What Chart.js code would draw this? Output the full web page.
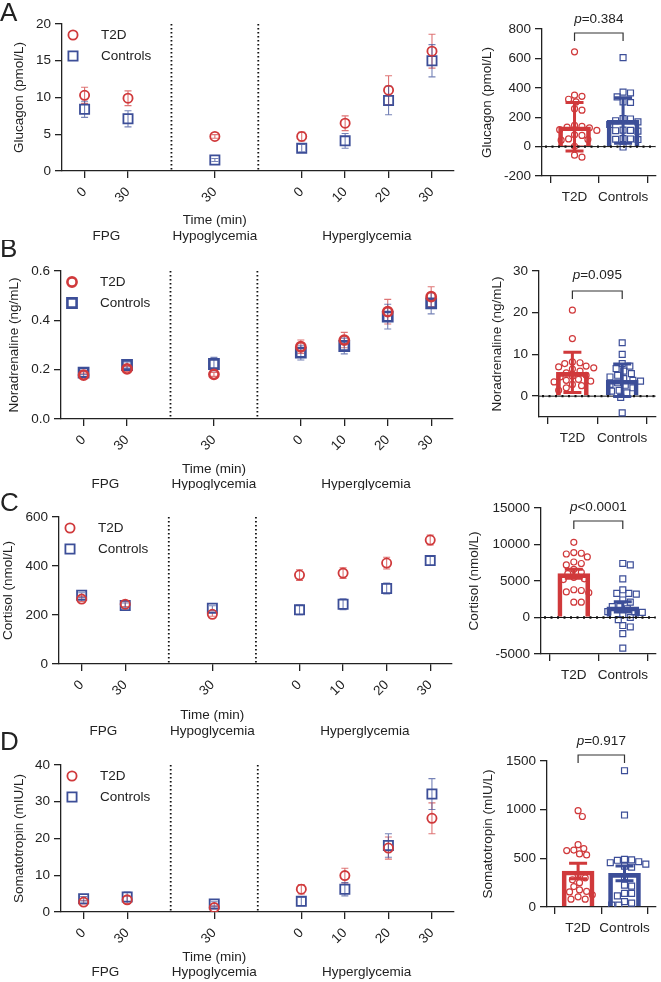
<!DOCTYPE html>
<html>
<head>
<meta charset="utf-8">
<script src="https://cdn.jsdelivr.net/npm/chart.js@4.4.1/dist/chart.umd.min.js"></script>
<style>
  html, body { margin: 0; padding: 0; background: #fff; }
  #fig { position: relative; width: 661px; height: 982px; overflow: hidden; }
  #fig canvas { position: absolute; }
</style>
</head>
<body>
<div id="fig"></div>
<script>
// ===== data =====
const phases = ['FPG', 'Hypoglycemia', 'Hyperglycemia'];
const timeLabels = ['0', '30', '30', '0', '10', '20', '30'];
const timePhase = [0, 0, 1, 2, 2, 2, 2];
const groups = ['T2D', 'Controls'];

// time courses (mean, error)
const glucT2D = [10.3, 9.9, 4.7, 4.7, 6.5, 11.0, 16.3];
const glucT2DErr = [1.1, 1.0, 0.25, 0.6, 1.0, 1.95, 2.3];
const glucCtl = [8.4, 7.1, 1.5, 3.1, 4.1, 9.6, 15.0];
const glucCtlErr = [1.1, 1.1, 0.2, 0.5, 1.0, 1.95, 2.2];

const noraT2D = [0.178, 0.203, 0.181, 0.293, 0.32, 0.435, 0.496];
const noraT2DErr = [0.008, 0.01, 0.008, 0.027, 0.031, 0.05, 0.04];
const noraCtl = [0.188, 0.219, 0.223, 0.269, 0.296, 0.415, 0.469];
const noraCtlErr = [0.008, 0.012, 0.027, 0.03, 0.032, 0.05, 0.043];

const cortT2D = [265, 244, 203, 363, 371, 412, 506];
const cortT2DErr = [10, 10, 8, 22, 22, 24, 20];
const cortCtl = [281, 239, 228, 221, 244, 308, 422];
const cortCtlErr = [10, 10, 10, 20, 22, 22, 20];

const somaT2D = [2.7, 3.3, 1.2, 6.2, 9.9, 17.4, 25.5];
const somaT2DErr = [0.5, 1.0, 0.4, 1.3, 2.0, 3.0, 4.2];
const somaCtl = [3.6, 4.1, 2.2, 2.9, 6.2, 18.1, 32.1];
const somaCtlErr = [0.6, 1.3, 0.6, 1.2, 1.8, 3.2, 4.2];

// summary bars [T2D, Controls] and individual values
const glucBar = [135, 178];
const glucBarErr = [165, 155];
const glucPtsT2D = [645, 350, 342, 322, 304, 258, 248, 145, 138, 133, 128, 115, 110, 80, 76, 52, 48, 44, 2, -58, -72];
const glucPtsCtl = [605, 371, 365, 338, 304, 300, 190, 188, 176, 168, 150, 112, 110, 108, 105, 55, 52, 50, 48, -3];

const noraBar = [5.7, 3.8];
const noraBarErr = [4.8, 3.9];
const noraPtsT2D = [20.6, 13.8, 8.2, 8.0, 7.8, 7.2, 7.0, 6.8, 6.5, 6.0, 5.6, 5.0, 4.8, 4.6, 4.0, 3.8, 3.6, 3.4, 2.8, 2.5, 2.0, 1.4];
const noraPtsCtl = [12.8, 10.0, 7.8, 7.2, 6.6, 6.0, 5.4, 5.0, 4.6, 4.2, 3.8, 3.6, 3.2, 2.8, 2.6, 2.0, 1.4, 1.2, 0.8, -0.3, -4.0];

const cortBar = [6000, 1450];
const cortBarErr = [620, 700];
const cortPtsT2D = [10300, 8900, 8800, 8700, 8300, 7600, 7400, 7200, 6600, 6200, 6000, 5500, 5300, 5200, 3800, 3700, 3500, 3400, 2100, 2100];
const cortPtsCtl = [7400, 7200, 5300, 3800, 3300, 3300, 3200, 2400, 2100, 1500, 1500, 1200, 800, 800, 700, 400, 0, -300, -1100, -1300, -2200, -4200];

const somaBar = [370, 345];
const somaBarErr = [80, 75];
const somaPtsT2D = [990, 930, 640, 600, 585, 580, 545, 535, 330, 300, 280, 250, 210, 175, 160, 155, 125, 105, 80, 80];
const somaPtsCtl = [1400, 945, 490, 485, 480, 465, 455, 440, 420, 410, 310, 225, 215, 140, 140, 115, 55, 40, 20, 20];

const pValues = ['=0.384', '=0.095', '<0.0001', '=0.917'];

// tick labels
const glucTicks = [0, 5, 10, 15, 20];
const noraTicks = [0, 0.2, 0.4, 0.6];
const cortTicks = [0, 200, 400, 600];
const somaTicks = [0, 10, 20, 30, 40];
const glucBarTicks = [-200, 0, 200, 400, 600, 800];
const noraBarTicks = [0, 10, 20, 30];
const cortBarTicks = [-5000, 0, 5000, 10000, 15000];
const somaBarTicks = [0, 500, 1000, 1500];

// ===== style =====
const FONT = "'Liberation Sans', Arial, sans-serif";
const FS = 13.5;
const INK = '#222';
const RED = '#d0393b';
const BLUE = '#3c4e98';
const RED_ERR = 'rgba(208,57,59,0.7)';
const BLUE_ERR = 'rgba(60,78,152,0.7)';

const panels = [
  { letter: 'A', top: 0, title: 'Glucagon (pmol/L)', t2d: glucT2D, t2dErr: glucT2DErr, ctl: glucCtl, ctlErr: glucCtlErr,
    yMin: 0, yMax: 20, ticks: glucTicks, dec: 0, area: [62, 24, 456, 171], titleX: 19, letterY: 14, timeDy: 49, groupDy: 65, mw: 1.8,
    bar: glucBar, barErr: glucBarErr, ptsT2D: glucPtsT2D, ptsCtl: glucPtsCtl, bMin: -200, bMax: 800, bTicks: glucBarTicks,
    bArea: [80, 29, 195, 176], bTitleX: 25, pY: 19, brY: 33, p: pValues[0] },
  { letter: 'B', top: 240, title: 'Noradrenaline (ng/mL)', t2d: noraT2D, t2dErr: noraT2DErr, ctl: noraCtl, ctlErr: noraCtlErr,
    yMin: 0, yMax: 0.6, ticks: noraTicks, dec: 1, area: [61, 31, 453, 179], titleX: 14, letterY: 10, timeDy: 50, groupDy: 65, mw: 2.6,
    bar: noraBar, barErr: noraBarErr, ptsT2D: noraPtsT2D, ptsCtl: noraPtsCtl, bMin: -5, bMax: 30, bTicks: noraBarTicks,
    bArea: [77, 31, 195, 177], bTitleX: 35, pY: 35, brY: 51, p: pValues[1] },
  { letter: 'C', top: 488, title: 'Cortisol (nmol/L)', t2d: cortT2D, t2dErr: cortT2DErr, ctl: cortCtl, ctlErr: cortCtlErr,
    yMin: 0, yMax: 600, ticks: cortTicks, dec: 0, area: [59, 29, 452, 176], titleX: 8, letterY: 16, timeDy: 51, groupDy: 67, mw: 1.8,
    bar: cortBar, barErr: cortBarErr, ptsT2D: cortPtsT2D, ptsCtl: cortPtsCtl, bMin: -5000, bMax: 15000, bTicks: cortBarTicks,
    bArea: [79, 20, 195, 166], bTitleX: 12, pY: 19, brY: 33, p: pValues[2] },
  { letter: 'D', top: 732, title: 'Somatotropin (mIU/L)', t2d: somaT2D, t2dErr: somaT2DErr, ctl: somaCtl, ctlErr: somaCtlErr,
    yMin: 0, yMax: 40, ticks: somaTicks, dec: 0, area: [61, 33, 454, 180], titleX: 19, letterY: 11, timeDy: 45, groupDy: 60, mw: 1.8,
    bar: somaBar, barErr: somaBarErr, ptsT2D: somaPtsT2D, ptsCtl: somaPtsCtl, bMin: 0, bMax: 1500, bTicks: somaBarTicks,
    bArea: [85, 29, 198, 175], bTitleX: 26, pY: 9, brY: 23, p: pValues[3] }
];

const fig = document.getElementById('fig');

function addCanvas(left, top, w, h) {
  const c = document.createElement('canvas');
  c.width = w; c.height = h;
  c.style.left = left + 'px'; c.style.top = top + 'px';
  c.style.width = w + 'px'; c.style.height = h + 'px';
  fig.appendChild(c);
  return c;
}

function text(ctx, str, x, y, opts = {}) {
  ctx.save();
  ctx.font = (opts.style || 'normal') + ' ' + (opts.size || FS) + 'px ' + FONT;
  ctx.fillStyle = INK;
  ctx.textAlign = opts.align || 'center';
  ctx.textBaseline = 'middle';
  ctx.translate(x, y);
  if (opts.rotate) ctx.rotate(opts.rotate);
  ctx.fillText(str, 0, 0);
  ctx.restore();
}

function marker(ctx, style, x, y, r, color, lw) {
  ctx.save();
  ctx.strokeStyle = color; ctx.lineWidth = lw;
  ctx.beginPath();
  if (style === 'circle') ctx.arc(x, y, r, 0, Math.PI * 2);
  else ctx.rect(x - r, y - r, 2 * r, 2 * r);
  ctx.stroke();
  ctx.restore();
}

function axisStyle(extra) {
  return Object.assign({
    grid: { drawOnChartArea: false, color: INK, lineWidth: 1.3, tickLength: 7, tickWidth: 1.3 },
    border: { color: INK, width: 1.3 }
  }, extra);
}

// simple beeswarm: spreads points sideways so they do not overlap
function swarm(vals, center, yRange, plotH) {
  const pxY = plotH / yRange, pxX = 49, d = 6.8;
  const placed = [];
  return vals.map(v => {
    const py = v * pxY;
    let off = 0;
    for (let k = 0; k < 80; k++) {
      const c = (k % 2 ? 1 : -1) * Math.ceil(k / 2) * 1.5;
      if (placed.every(q => Math.hypot(q[0] - c, q[1] - py) >= d)) { off = c; break; }
    }
    placed.push([off, py]);
    return { x: center + off / pxX, y: v };
  });
}

function makeTimeChart(p) {
  const W = 462, H = 250;
  const [L, T, R, B] = p.area;
  const xs = timeLabels.map((_, i) => i + timePhase[i]);
  const seps = xs.filter((v, i) => i > 0 && timePhase[i] !== timePhase[i - 1]).map(v => v - 1);
  const toPts = arr => arr.map((v, i) => ({ x: xs[i], y: v }));

  const decor = {
    id: 'timeDecor',
    beforeDatasetsDraw(chart) {
      const { ctx, chartArea: a, scales: { x, y } } = chart;
      ctx.save();
      ctx.strokeStyle = '#111'; ctx.lineWidth = 1.8; ctx.setLineDash([1.6, 2.4]);
      seps.forEach(v => {
        const px = x.getPixelForValue(v);
        ctx.beginPath(); ctx.moveTo(px, a.top); ctx.lineTo(px, a.bottom); ctx.stroke();
      });
      ctx.setLineDash([]);
      ctx.lineWidth = 1.1;
      chart.data.datasets.forEach(ds => {
        ctx.strokeStyle = ds.errColor;
        ds.data.forEach((pt, i) => {
          const px = x.getPixelForValue(pt.x);
          const hi = y.getPixelForValue(pt.y + ds.err[i]);
          const lo = y.getPixelForValue(pt.y - ds.err[i]);
          ctx.beginPath();
          ctx.moveTo(px, hi); ctx.lineTo(px, lo);
          ctx.moveTo(px - 3.5, hi); ctx.lineTo(px + 3.5, hi);
          ctx.moveTo(px - 3.5, lo); ctx.lineTo(px + 3.5, lo);
          ctx.stroke();
        });
      });
      ctx.restore();
    },
    afterDraw(chart) {
      const { ctx, chartArea: a, scales: { x } } = chart;
      text(ctx, p.letter, 0, p.letterY, { size: 26, align: 'left' });
      text(ctx, p.title, p.titleX, (a.top + a.bottom) / 2, { rotate: -Math.PI / 2 });
      // legend
      marker(ctx, 'circle', a.left + 11, a.top + 11, 4.6, RED, p.mw);
      marker(ctx, 'rect', a.left + 11, a.top + 32, 4.6, BLUE, p.mw);
      text(ctx, groups[0], a.left + 39, a.top + 11, { align: 'left' });
      text(ctx, groups[1], a.left + 39, a.top + 32, { align: 'left' });
      // axis title & phase labels
      text(ctx, 'Time (min)', x.getPixelForValue(xs[2]), a.bottom + p.timeDy);
      phases.forEach((ph, k) => {
        const idx = xs.filter((v, i) => timePhase[i] === k);
        const mid = (idx[0] + idx[idx.length - 1]) / 2;
        text(ctx, ph, x.getPixelForValue(mid), a.bottom + p.groupDy);
      });
    }
  };

  new Chart(addCanvas(0, p.top, W, H), {
    type: 'scatter',
    data: {
      datasets: [
        { label: groups[0], data: toPts(p.t2d), err: p.t2dErr, errColor: RED_ERR, pointStyle: 'circle', pointRadius: 4.6,
          borderColor: RED, backgroundColor: 'rgba(255,255,255,0)', pointBorderWidth: p.mw },
        { label: groups[1], data: toPts(p.ctl), err: p.ctlErr, errColor: BLUE_ERR, pointStyle: 'rect', pointRadius: 6.5,
          borderColor: BLUE, backgroundColor: 'rgba(255,255,255,0)', pointBorderWidth: p.mw }
      ]
    },
    options: {
      responsive: false, animation: false, events: [],
      layout: { padding: { left: 0, top: T, right: W - R, bottom: 0 } },
      plugins: { legend: { display: false }, tooltip: { enabled: false } },
      scales: {
        x: axisStyle({
          type: 'linear', min: -0.52, max: 8.5,
          afterBuildTicks: s => { s.ticks = xs.map(v => ({ value: v })); },
          afterFit: s => { s.height = H - B; },
          ticks: { autoSkip: false, minRotation: 45, maxRotation: 45, padding: 6, color: INK,
            font: { family: FONT, size: FS }, callback: (v, i) => timeLabels[i] }
        }),
        y: axisStyle({
          min: p.yMin, max: p.yMax,
          afterBuildTicks: s => { s.ticks = p.ticks.map(v => ({ value: v })); },
          afterFit: s => { s.width = L; },
          ticks: { padding: 4, color: INK, font: { family: FONT, size: FS }, callback: v => v.toFixed(p.dec) }
        })
      }
    },
    plugins: [decor]
  });
}

function makeBarChart(p) {
  const W = 199, H = 250;
  const [L, T, R, B] = p.bArea;
  const range = p.bMax - p.bMin, plotH = B - T;
  const cols = [RED, BLUE];

  const decor = {
    id: 'barDecor',
    afterDatasetsDraw(chart) {
      const { ctx, chartArea: a, scales: { x, y } } = chart;
      ctx.save();
      if (p.bMin < 0) {
        const y0 = y.getPixelForValue(0);
        ctx.strokeStyle = '#111'; ctx.lineWidth = 1;
        ctx.beginPath(); ctx.moveTo(a.left, y0); ctx.lineTo(a.right, y0); ctx.stroke();
        ctx.lineWidth = 2.4; ctx.setLineDash([2, 4.5]);
        ctx.beginPath(); ctx.moveTo(a.left + 3, y0); ctx.lineTo(a.right, y0); ctx.stroke();
        ctx.setLineDash([]);
      }
      ctx.lineWidth = 3;
      p.bar.forEach((m, i) => {
        const px = x.getPixelForValue(i);
        const hi = y.getPixelForValue(m + p.barErr[i]);
        const lo = y.getPixelForValue(m - p.barErr[i]);
        ctx.strokeStyle = cols[i];
        ctx.beginPath();
        ctx.moveTo(px, hi); ctx.lineTo(px, lo);
        ctx.moveTo(px - 9, hi); ctx.lineTo(px + 9, hi);
        ctx.moveTo(px - 9, lo); ctx.lineTo(px + 9, lo);
        ctx.stroke();
      });
      ctx.restore();
    },
    afterDraw(chart) {
      const { ctx, chartArea: a, scales: { x } } = chart;
      text(ctx, p.title, p.bTitleX, (a.top + a.bottom) / 2, { rotate: -Math.PI / 2 });
      const x0 = x.getPixelForValue(0), x1 = x.getPixelForValue(1);
      ctx.save();
      ctx.strokeStyle = '#333'; ctx.lineWidth = 1.2;
      ctx.beginPath();
      ctx.moveTo(x0, p.brY + 8); ctx.lineTo(x0, p.brY); ctx.lineTo(x1, p.brY); ctx.lineTo(x1, p.brY + 8);
      ctx.stroke();
      ctx.font = 'italic ' + FS + 'px ' + FONT;
      const wp = ctx.measureText('p').width;
      ctx.font = 'normal ' + FS + 'px ' + FONT;
      const wr = ctx.measureText(p.p).width;
      ctx.restore();
      const start = (x0 + x1) / 2 - (wp + wr) / 2;
      text(ctx, 'p', start, p.pY, { style: 'italic', align: 'left' });
      text(ctx, p.p, start + wp, p.pY, { align: 'left' });
    }
  };

  const pts = (vals, i, style, r) => ({
    type: 'scatter', data: swarm(vals, i, range, plotH), pointStyle: style, pointRadius: r,
    borderColor: cols[i], backgroundColor: 'rgba(255,255,255,0)', pointBorderWidth: 1.2
  });

  new Chart(addCanvas(462, p.top, W, H), {
    type: 'bar',
    data: {
      datasets: [
        pts(p.ptsT2D, 0, 'circle', 3),
        pts(p.ptsCtl, 1, 'rect', 4.2),
        { type: 'bar', data: p.bar.map((v, i) => ({ x: i, y: v })), barThickness: 32, borderWidth: 4,
          borderColor: cols, backgroundColor: 'rgba(255,255,255,0)' }
      ]
    },
    options: {
      responsive: false, animation: false, events: [],
      layout: { padding: { left: 0, top: T, right: W - R, bottom: 0 } },
      plugins: { legend: { display: false }, tooltip: { enabled: false } },
      scales: {
        x: axisStyle({
          type: 'linear', min: -0.67, max: 1.67, offset: false,
          afterBuildTicks: s => { s.ticks = groups.map((g, i) => ({ value: i })); },
          afterFit: s => { s.height = H - B; },
          ticks: { autoSkip: false, minRotation: 0, maxRotation: 0, padding: 6, color: INK,
            font: { family: FONT, size: FS }, callback: (v, i) => groups[i] }
        }),
        y: axisStyle({
          min: p.bMin, max: p.bMax,
          afterBuildTicks: s => { s.ticks = p.bTicks.map(v => ({ value: v })); },
          afterFit: s => { s.width = L; },
          ticks: { padding: 4, color: INK, font: { family: FONT, size: FS }, callback: v => String(v) }
        })
      }
    },
    plugins: [decor]
  });
}

panels.forEach(p => { makeTimeChart(p); makeBarChart(p); });
</script>
</body>
</html>
